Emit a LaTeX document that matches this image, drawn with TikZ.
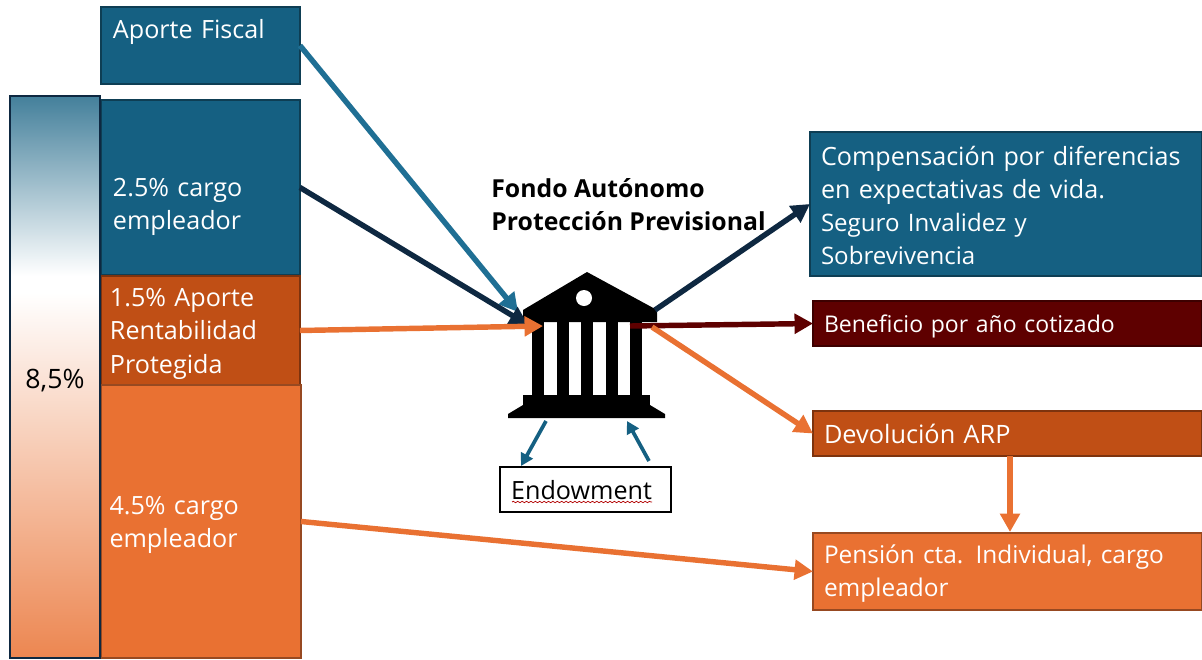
\documentclass[tikz,border=0pt]{standalone}
\usepackage{fontspec}
\setmainfont{Open Sans}
\usetikzlibrary{arrows.meta,decorations.pathmorphing}
\definecolor{azul}{HTML}{156082}
\definecolor{azulflecha}{HTML}{1F6F94}
\definecolor{marino}{HTML}{0E2841}
\definecolor{naranja}{HTML}{E97132}
\definecolor{naranjaosc}{HTML}{C04F15}
\definecolor{granate}{HTML}{5E0000}
\pgfdeclareverticalshading{barra}{100bp}{
  color(0bp)=(naranja!85!white); color(25bp)=(naranja!85!white);
  color(57.5bp)=(white); color(59bp)=(white);
  color(75bp)=(azul!80!white); color(100bp)=(azul!80!white)}
\tikzset{
  caja/.style={draw=#1!65!black, fill=#1, line width=1.2pt, text=white, anchor=north west, outer sep=0pt,
    align=left, inner xsep=2pt, inner ysep=0pt, font=\fontsize{14.3}{18.8}\selectfont},
  flecha/.style={draw=#1, line width=3.1pt, -{Triangle[length=10.5pt,width=11pt]}},
  delgada/.style={draw=azul, line width=2.1pt, -{Triangle[length=7pt,width=7.5pt]}}
}
\begin{document}
\begin{tikzpicture}[x=0.02cm,y=-0.02cm]
\useasboundingbox (0,0) rectangle (1202,659);

\node[caja=azul, minimum width=3.98cm, minimum height=1.54cm, text width=3.5cm, text depth=19pt] (fiscal) at (101,7) {Aporte Fiscal};
\node[caja=azul, minimum width=3.98cm, minimum height=3.5cm, text width=3.5cm, text height=32pt] (cargoazul) at (101,100) {2.5\% cargo\\empleador};
\node[caja=naranjaosc, minimum width=3.98cm, minimum height=2.18cm, text width=3.62cm, text height=14pt, font=\fontsize{14.3}{19}\selectfont] (rentab) at (101,276) {1.5\% Aporte\\Rentabilidad\\Protegida};
\node[caja=naranja, minimum width=4cm, minimum height=5.46cm, text width=3.66cm, text height=14pt] (cargonaranja) at (101,385) {4.5\% cargo\\empleador};

\node[draw=marino, line width=1.2pt, shading=barra, anchor=north west, outer sep=0pt, minimum width=1.8cm, minimum height=11.24cm, font=\fontsize{15.2}{18}\selectfont, text=black, inner sep=0pt, text height=15.5pt, text depth=2.5pt] (total) at (10,96) {8,5\%};

\node[caja=azul, minimum width=7.84cm, minimum height=2.88cm, text width=7.4cm, text height=13pt] (compensa) at (810,132) {Compensación por diferencias\\en expectativas de vida.\\{\fontsize{13.7}{18.8}\selectfont Seguro Invalidez y}\\{\fontsize{13.7}{18.8}\selectfont Sobrevivencia}};
\node[caja=granate, minimum width=7.78cm, minimum height=0.9cm, text width=7.34cm, text height=13.5pt, font=\fontsize{13.1}{16}\selectfont] (beneficio) at (813,301) {Beneficio por año cotizado};
\node[caja=naranjaosc, minimum width=7.78cm, minimum height=0.9cm, text width=7.34cm, font=\fontsize{14.4}{16}\selectfont] (devolucion) at (813,411) {Devolución ARP};
\node[caja=naranja, minimum width=7.78cm, minimum height=1.54cm, text width=7.34cm, text height=13.5pt, font=\fontsize{13.9}{18.8}\selectfont] (pension) at (813,533) {Pensión cta. Individual, cargo\\empleador};

\node[draw=black, line width=1.1pt, fill=white, anchor=north west, outer sep=0pt, minimum width=3.42cm, minimum height=0.9cm, inner sep=0pt, text height=12pt, font=\fontsize{14.3}{16}\selectfont] (endowment) at (500,467) {Endowment\kern4.5pt};
\draw[red!70!black, line width=0.4pt, decorate, decoration={snake,amplitude=0.4pt,segment length=2.5pt}] (512,502) -- (652,502);

\node[anchor=north west, align=left, inner sep=0pt, font=\fontsize{14.1}{18.8}\selectfont\bfseries] (titulo) at (491,178) {Fondo Autónomo\\Protección Previsional};

% edificio
\fill (587,272) -- (657,310) -- (657,322) -- (523,322) -- (523,310) -- cycle;
\foreach \x in {532,556.5,581,606,630} {
  \fill (\x,320) rectangle +(12,76);
}
\fill (523,395) rectangle (650,408);
\fill (508,418) -- (508,414) -- (523,405) -- (650,405) -- (665,414) -- (665,418) -- cycle;
\fill[white] (584,298) circle (8);

\coordinate (techoizq) at (518,312);
\coordinate (techomed) at (528,325);
\coordinate (columna) at (543,326);
\coordinate (techoder) at (655,310);
\coordinate (salida) at (630,326);
\coordinate (esquina) at (652,327);
\coordinate (baseizq) at (546,421);
\coordinate (baseder) at (627,421);
\coordinate (endosal) at (521,466);
\coordinate (endoent) at (649,461);
\coordinate (pensionsup) at (1010,532);
\coordinate (devinf) at (1010,456);

\draw[flecha=azulflecha] (fiscal.east) -- (techoizq);
\draw[flecha=marino] (cargoazul.east) -- (techomed);
\draw[flecha=naranja] (rentab.east) -- (columna);
\draw[flecha=naranja] (cargonaranja.east) -- (pension.west);
\draw[flecha=marino] (techoder) -- (compensa.west);
\draw[flecha=granate] (salida) -- (beneficio.west);
\draw[flecha=naranja] (esquina) -- (devolucion.west);
\draw[flecha=naranja] (devinf) -- (pensionsup);
\draw[delgada] (baseizq) -- (endosal);
\draw[delgada] (endoent) -- (baseder);
\end{tikzpicture}
\end{document}
